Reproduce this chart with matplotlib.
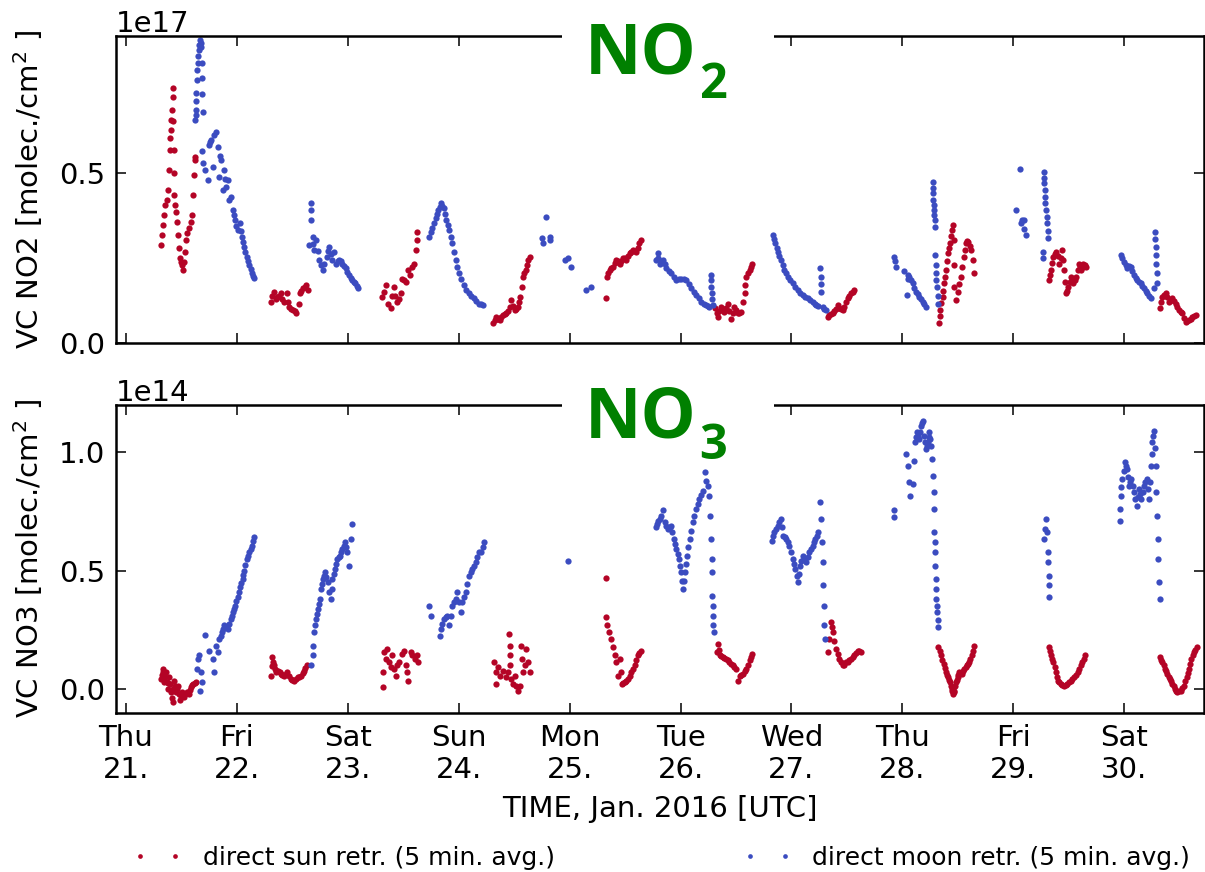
import matplotlib
matplotlib.use("Agg")
import matplotlib.pyplot as plt
import numpy as np
from matplotlib.patches import Rectangle
from matplotlib.ticker import ScalarFormatter

# ---------------- data (time = day of Jan 2016, UTC) ----------------
weekdays = ["Thu", "Fri", "Sat", "Sun", "Mon", "Tue", "Wed", "Thu", "Fri", "Sat"]
day_numbers = [21, 22, 23, 24, 25, 26, 27, 28, 29, 30]

# NO2 direct sun (units 1e17 molec/cm2)
no2_sun_t = [21.315, 21.324, 21.333, 21.342, 21.356, 21.369, 21.378, 21.387, 21.396, 21.400, 21.405, 21.410, 21.414, 21.420, 21.423, 21.428, 21.432, 21.435, 21.437, 21.441, 21.450, 21.459, 21.468, 21.477, 21.486, 21.495, 21.505, 21.514, 21.523, 21.532, 21.541, 21.550, 21.568, 21.586, 21.595, 21.604, 21.613, 21.622, 21.626,
             22.306, 22.320, 22.336, 22.350, 22.366, 22.380, 22.396, 22.410, 22.426, 22.448, 22.460, 22.471, 22.490, 22.502, 22.520, 22.532, 22.556, 22.568, 22.580, 22.592, 22.610, 22.622, 22.637,
             23.312, 23.330, 23.342, 23.367, 23.387, 23.400, 23.417, 23.430, 23.448, 23.460, 23.477, 23.493, 23.510, 23.523, 23.547, 23.560, 23.577, 23.597, 23.613, 23.622, 23.628,
             24.309, 24.325, 24.339, 24.355, 24.369, 24.385, 24.399, 24.415, 24.429, 24.445, 24.459, 24.474, 24.490, 24.505, 24.520, 24.534, 24.546, 24.556, 24.568, 24.580, 24.592, 24.604, 24.614, 24.624, 24.640,
             25.324, 25.336, 25.348, 25.360, 25.375, 25.390, 25.405, 25.420, 25.435, 25.450, 25.465, 25.480, 25.495, 25.511, 25.526, 25.541, 25.556, 25.571, 25.586, 25.601, 25.613, 25.625, 25.640,
             26.315, 26.326, 26.336, 26.350, 26.366, 26.381, 26.396, 26.411, 26.426, 26.441, 26.456, 26.471, 26.486, 26.501, 26.516, 26.531, 26.546, 26.560, 26.577, 26.585, 26.592, 26.607, 26.622, 26.634, 26.646,
             27.327, 27.342, 27.357, 27.372, 27.387, 27.402, 27.417, 27.432, 27.447, 27.462, 27.477, 27.492, 27.507, 27.522, 27.538, 27.553, 27.568,
             28.333, 28.338, 28.342, 28.352, 28.363, 28.370, 28.378, 28.385, 28.393, 28.403, 28.414, 28.423, 28.432, 28.438, 28.444, 28.456, 28.462, 28.465, 28.468, 28.486, 28.500, 28.515, 28.528, 28.540, 28.552, 28.563, 28.574, 28.585, 28.595, 28.607, 28.619, 28.633, 28.649,
             29.324, 29.332, 29.339, 29.350, 29.363, 29.374, 29.384, 29.400, 29.414, 29.430, 29.444, 29.452, 29.459, 29.467, 29.475, 29.485, 29.495, 29.508, 29.520, 29.532, 29.543, 29.555, 29.565, 29.580, 29.595, 29.605, 29.615, 29.625, 29.633, 29.645, 29.655,
             30.324, 30.335, 30.345, 30.360, 30.375, 30.390, 30.405, 30.420, 30.435, 30.450, 30.465, 30.480, 30.495, 30.510, 30.525, 30.540, 30.555, 30.570, 30.586, 30.600, 30.616, 30.630, 30.646]
no2_sun_v = [0.288, 0.317, 0.347, 0.376, 0.405, 0.420, 0.449, 0.508, 0.567, 0.600, 0.625, 0.655, 0.684, 0.720, 0.748, 0.650, 0.567, 0.500, 0.435, 0.405, 0.385, 0.356, 0.317, 0.279, 0.250, 0.238, 0.229, 0.215, 0.238, 0.268, 0.303, 0.323, 0.338, 0.356, 0.376, 0.435, 0.493, 0.537, 0.546,
             0.122, 0.140, 0.151, 0.130, 0.137, 0.140, 0.147, 0.130, 0.122, 0.147, 0.120, 0.107, 0.100, 0.098, 0.095, 0.090, 0.117, 0.147, 0.155, 0.161, 0.165, 0.171, 0.156,
             0.137, 0.150, 0.171, 0.117, 0.103, 0.140, 0.166, 0.140, 0.122, 0.130, 0.147, 0.190, 0.185, 0.180, 0.215, 0.200, 0.225, 0.234, 0.273, 0.303, 0.327,
             0.059, 0.070, 0.078, 0.072, 0.068, 0.078, 0.083, 0.085, 0.088, 0.095, 0.107, 0.127, 0.110, 0.098, 0.100, 0.107, 0.120, 0.137, 0.165, 0.195, 0.205, 0.215, 0.230, 0.244, 0.254,
             0.132, 0.195, 0.205, 0.215, 0.220, 0.225, 0.235, 0.244, 0.240, 0.234, 0.240, 0.249, 0.250, 0.244, 0.255, 0.264, 0.268, 0.273, 0.270, 0.268, 0.280, 0.293, 0.303,
             0.103, 0.090, 0.078, 0.095, 0.107, 0.100, 0.093, 0.105, 0.117, 0.095, 0.073, 0.090, 0.107, 0.097, 0.088, 0.090, 0.093, 0.120, 0.147, 0.170, 0.195, 0.205, 0.215, 0.225, 0.234,
             0.078, 0.082, 0.085, 0.088, 0.095, 0.100, 0.112, 0.105, 0.100, 0.098, 0.107, 0.120, 0.132, 0.140, 0.147, 0.150, 0.156,
             0.059, 0.080, 0.098, 0.118, 0.137, 0.155, 0.176, 0.195, 0.215, 0.240, 0.264, 0.280, 0.293, 0.315, 0.332, 0.347, 0.303, 0.230, 0.166, 0.127, 0.150, 0.175, 0.195, 0.225, 0.254, 0.275, 0.293, 0.300, 0.298, 0.285, 0.273, 0.244, 0.205,
             0.186, 0.200, 0.215, 0.235, 0.254, 0.262, 0.268, 0.255, 0.234, 0.250, 0.273, 0.245, 0.215, 0.180, 0.147, 0.155, 0.166, 0.180, 0.195, 0.185, 0.176, 0.185, 0.195, 0.215, 0.234, 0.225, 0.215, 0.225, 0.234, 0.230, 0.225,
             0.103, 0.120, 0.137, 0.142, 0.147, 0.135, 0.122, 0.128, 0.132, 0.125, 0.117, 0.108, 0.098, 0.093, 0.088, 0.075, 0.063, 0.066, 0.068, 0.073, 0.078, 0.080, 0.083]

# NO2 direct moon (units 1e17 molec/cm2)
no2_moon_t = [21.624, 21.628, 21.631, 21.633, 21.634, 21.637, 21.642, 21.646, 21.650, 21.655, 21.661, 21.667, 21.673, 21.679, 21.682, 21.685, 21.688, 21.691,
              21.685, 21.697, 21.715, 21.736, 21.745, 21.755, 21.766, 21.781, 21.796, 21.811, 21.826, 21.841, 21.850, 21.856, 21.871, 21.886, 21.895, 21.901, 21.916, 21.931, 21.946, 21.961, 21.975, 21.985, 21.995, 22.006, 22.027, 22.036, 22.045, 22.055, 22.066, 22.077, 22.087, 22.100, 22.111, 22.123, 22.135, 22.146, 22.156,
              22.646, 22.667, 22.667, 22.669, 22.682, 22.690, 22.697, 22.712, 22.727, 22.742, 22.757, 22.772, 22.787, 22.808, 22.820, 22.832, 22.845, 22.856, 22.877, 22.898, 22.910, 22.922, 22.937, 22.952, 22.967, 22.982, 22.997, 23.012, 23.027, 23.042, 23.054, 23.066, 23.081, 23.096,
              23.733, 23.748, 23.763, 23.778, 23.793, 23.805, 23.817, 23.828, 23.838, 23.853, 23.868, 23.878, 23.889, 23.900, 23.913, 23.928, 23.943, 23.958, 23.973, 23.988, 24.003, 24.025, 24.048, 24.070, 24.093, 24.115, 24.138, 24.160, 24.183, 24.200, 24.219,
              24.754, 24.760, 24.790, 24.820, 24.826, 24.955, 24.985, 25.015, 25.144, 25.195,
              25.781, 25.796, 25.800, 25.811, 25.826, 25.841, 25.856, 25.871, 25.893, 25.916, 25.938, 25.961, 25.983, 26.006, 26.028, 26.051, 26.073, 26.096, 26.118, 26.141, 26.163, 26.186, 26.208, 26.231, 26.246, 26.261, 26.273, 26.276, 26.278, 26.280, 26.283, 26.291,
              26.832, 26.845, 26.856, 26.866, 26.877, 26.892, 26.907, 26.922, 26.937, 26.952, 26.967, 26.990, 27.012, 27.035, 27.057, 27.080, 27.102, 27.125, 27.147, 27.170, 27.192, 27.210, 27.222, 27.240, 27.262, 27.264, 27.267, 27.270, 27.282, 27.297, 27.312,
              27.928, 27.933, 27.943, 28.018, 28.042, 28.048, 28.055, 28.063, 28.078, 28.093, 28.108, 28.123, 28.138, 28.153, 28.168, 28.183, 28.198, 28.213, 28.273, 28.274, 28.276, 28.279, 28.282, 28.285, 28.288, 28.291, 28.294, 28.297, 28.300, 28.303, 28.306, 28.312, 28.318, 28.324,
              29.024, 29.063, 29.069, 29.080, 29.093, 29.100, 29.114, 29.264, 29.264, 29.273, 29.276, 29.279, 29.282, 29.286, 29.290, 29.295, 29.300, 29.304, 29.310, 29.315,
              29.970, 29.985, 30.000, 30.015, 30.030, 30.045, 30.061, 30.075, 30.090, 30.105, 30.120, 30.135, 30.151, 30.165, 30.180, 30.195, 30.210, 30.225, 30.241, 30.270, 30.279, 30.282, 30.285, 30.288, 30.291, 30.295, 30.300]
no2_moon_v = [0.654, 0.670, 0.684, 0.710, 0.732, 0.772, 0.800, 0.821, 0.840, 0.860, 0.875, 0.889, 0.880, 0.869, 0.820, 0.777, 0.730, 0.679,
              0.562, 0.528, 0.508, 0.479, 0.581, 0.590, 0.596, 0.518, 0.611, 0.620, 0.576, 0.488, 0.550, 0.537, 0.449, 0.508, 0.480, 0.459, 0.479, 0.420, 0.430, 0.391, 0.375, 0.361, 0.345, 0.332, 0.352, 0.330, 0.312, 0.298, 0.283, 0.268, 0.254, 0.240, 0.229, 0.217, 0.205, 0.198, 0.193,
              0.288, 0.410, 0.361, 0.390, 0.312, 0.290, 0.273, 0.303, 0.270, 0.244, 0.230, 0.215, 0.234, 0.254, 0.270, 0.283, 0.262, 0.244, 0.268, 0.234, 0.240, 0.244, 0.240, 0.234, 0.227, 0.220, 0.210, 0.200, 0.193, 0.186, 0.181, 0.176, 0.168, 0.161,
              0.312, 0.325, 0.337, 0.352, 0.366, 0.378, 0.391, 0.400, 0.410, 0.403, 0.396, 0.380, 0.361, 0.346, 0.332, 0.312, 0.293, 0.268, 0.244, 0.224, 0.205, 0.188, 0.171, 0.158, 0.147, 0.139, 0.132, 0.124, 0.117, 0.115, 0.112,
              0.308, 0.293, 0.371, 0.312, 0.303, 0.244, 0.249, 0.225, 0.156, 0.164,
              0.244, 0.264, 0.250, 0.234, 0.240, 0.244, 0.232, 0.220, 0.212, 0.205, 0.196, 0.186, 0.188, 0.190, 0.188, 0.186, 0.174, 0.161, 0.152, 0.142, 0.132, 0.122, 0.117, 0.112, 0.110, 0.107, 0.200, 0.186, 0.165, 0.147, 0.130, 0.112,
              0.317, 0.305, 0.293, 0.280, 0.268, 0.256, 0.244, 0.230, 0.215, 0.205, 0.195, 0.186, 0.176, 0.166, 0.156, 0.149, 0.142, 0.137, 0.132, 0.127, 0.122, 0.117, 0.112, 0.110, 0.220, 0.195, 0.175, 0.150, 0.107, 0.102, 0.098,
              0.254, 0.240, 0.225, 0.213, 0.142, 0.190, 0.200, 0.195, 0.185, 0.176, 0.163, 0.151, 0.144, 0.137, 0.130, 0.122, 0.115, 0.107, 0.474, 0.455, 0.440, 0.420, 0.405, 0.390, 0.376, 0.360, 0.342, 0.259, 0.230, 0.205, 0.185, 0.166, 0.140, 0.117,
              0.391, 0.510, 0.352, 0.360, 0.361, 0.335, 0.317, 0.268, 0.249, 0.503, 0.485, 0.469, 0.450, 0.430, 0.410, 0.391, 0.370, 0.352, 0.330, 0.308,
              0.259, 0.250, 0.239, 0.230, 0.220, 0.228, 0.225, 0.212, 0.200, 0.193, 0.186, 0.181, 0.176, 0.168, 0.161, 0.154, 0.147, 0.140, 0.132, 0.161, 0.327, 0.305, 0.283, 0.260, 0.234, 0.205, 0.176]

# NO3 direct sun (units 1e14 molec/cm2)
no3_sun_t = [21.315, 21.322, 21.330, 21.338, 21.345, 21.352, 21.360, 21.368, 21.375, 21.382, 21.390, 21.397, 21.405, 21.412, 21.420, 21.428, 21.435, 21.442, 21.450, 21.458, 21.465, 21.475, 21.486, 21.495, 21.505, 21.515, 21.526, 21.536, 21.547, 21.556, 21.565, 21.575, 21.586, 21.597, 21.607, 21.619, 21.631,
             22.312, 22.316, 22.321, 22.328, 22.336, 22.344, 22.351, 22.363, 22.375, 22.385, 22.396, 22.411, 22.426, 22.441, 22.456, 22.471, 22.486, 22.501, 22.517, 22.532, 22.547, 22.562, 22.577, 22.592, 22.607, 22.618, 22.628,
             23.318, 23.321, 23.327, 23.342, 23.357, 23.372, 23.387, 23.402, 23.417, 23.432, 23.447, 23.462, 23.486, 23.508, 23.523, 23.538, 23.547, 23.568, 23.583, 23.607, 23.628, 23.637,
             24.315, 24.333, 24.339, 24.354, 24.375, 24.399, 24.423, 24.444, 24.453, 24.459, 24.462, 24.465, 24.474, 24.489, 24.505, 24.520, 24.535, 24.550, 24.565, 24.574, 24.580, 24.595, 24.610, 24.625, 24.640,
             25.330, 25.324, 25.336, 25.354, 25.375, 25.390, 25.405, 25.420, 25.435, 25.450, 25.465, 25.474, 25.485, 25.495, 25.510, 25.526, 25.541, 25.556, 25.571, 25.586, 25.601, 25.616, 25.628, 25.640,
             26.327, 26.336, 26.347, 26.357, 26.369, 26.381, 26.396, 26.411, 26.426, 26.441, 26.456, 26.471, 26.486, 26.501, 26.516, 26.532, 26.547, 26.562, 26.577, 26.592, 26.607, 26.622, 26.634, 26.646,
             27.327, 27.342, 27.357, 27.365, 27.372, 27.387, 27.402, 27.417, 27.432, 27.447, 27.462, 27.477, 27.493, 27.508, 27.523, 27.538, 27.553, 27.568, 27.583, 27.598, 27.613, 27.628,
             28.325, 28.336, 28.348, 28.360, 28.372, 28.383, 28.393, 28.404, 28.414, 28.423, 28.432, 28.438, 28.444, 28.450, 28.456, 28.462, 28.468, 28.476, 28.483, 28.490, 28.498, 28.506, 28.513, 28.524, 28.534, 28.546, 28.558, 28.570, 28.582, 28.592, 28.603, 28.614, 28.625, 28.634, 28.643,
             29.324, 29.332, 29.339, 29.351, 29.363, 29.374, 29.384, 29.395, 29.405, 29.417, 29.429, 29.444, 29.459, 29.474, 29.489, 29.504, 29.519, 29.534, 29.549, 29.565, 29.580, 29.595, 29.610, 29.622, 29.634, 29.646,
             30.324, 30.335, 30.345, 30.356, 30.366, 30.378, 30.390, 30.402, 30.414, 30.425, 30.435, 30.446, 30.456, 30.468, 30.480, 30.495, 30.510, 30.525, 30.541, 30.553, 30.565, 30.576, 30.586, 30.597, 30.607, 30.619, 30.631, 30.643, 30.655]
no3_sun_v = [0.042, 0.060, 0.085, 0.070, 0.028, 0.050, 0.070, 0.030, 0.000, 0.025, 0.049, 0.020, -0.014, -0.040, -0.056, 0.000, 0.035, 0.010, -0.014, 0.000, 0.014, -0.020, -0.049, -0.030, -0.014, -0.025, -0.035, -0.020, -0.014, -0.018, -0.021, -0.005, 0.007, 0.015, 0.021, 0.025, 0.028,
             0.056, 0.095, 0.134, 0.115, 0.099, 0.085, 0.070, 0.075, 0.077, 0.070, 0.063, 0.060, 0.056, 0.062, 0.070, 0.055, 0.042, 0.038, 0.035, 0.040, 0.049, 0.052, 0.056, 0.066, 0.077, 0.088, 0.099,
             0.007, 0.070, 0.155, 0.127, 0.169, 0.113, 0.092, 0.141, 0.085, 0.056, 0.099, 0.113, 0.148, 0.162, 0.099, 0.070, 0.035, 0.155, 0.141, 0.127, 0.141, 0.113,
             0.113, 0.070, 0.021, 0.092, 0.056, 0.077, 0.049, 0.070, 0.232, 0.183, 0.141, 0.099, 0.042, 0.021, 0.056, 0.014, -0.007, 0.014, 0.183, 0.127, 0.070, 0.099, 0.169, 0.113, 0.070,
             0.468, 0.303, 0.268, 0.239, 0.211, 0.176, 0.141, 0.113, 0.056, 0.127, 0.070, 0.021, 0.024, 0.028, 0.035, 0.042, 0.056, 0.070, 0.085, 0.099, 0.120, 0.141, 0.152, 0.162,
             0.155, 0.190, 0.165, 0.141, 0.137, 0.134, 0.130, 0.127, 0.120, 0.113, 0.106, 0.099, 0.092, 0.085, 0.035, 0.056, 0.060, 0.063, 0.074, 0.085, 0.102, 0.120, 0.134, 0.148,
             0.155, 0.211, 0.282, 0.260, 0.239, 0.204, 0.169, 0.148, 0.127, 0.113, 0.099, 0.099, 0.113, 0.113, 0.120, 0.127, 0.134, 0.141, 0.150, 0.162, 0.158, 0.155,
             0.176, 0.158, 0.141, 0.124, 0.106, 0.088, 0.070, 0.060, 0.049, 0.038, 0.028, 0.014, 0.000, -0.010, -0.021, -0.014, -0.007, 0.010, 0.028, 0.038, 0.049, 0.060, 0.070, 0.066, 0.063, 0.074, 0.085, 0.092, 0.099, 0.106, 0.113, 0.127, 0.141, 0.162, 0.183,
             0.176, 0.158, 0.141, 0.127, 0.113, 0.092, 0.070, 0.052, 0.035, 0.028, 0.021, 0.018, 0.014, 0.018, 0.021, 0.028, 0.035, 0.042, 0.049, 0.060, 0.070, 0.085, 0.099, 0.113, 0.127, 0.141,
             0.134, 0.124, 0.113, 0.099, 0.085, 0.074, 0.063, 0.052, 0.042, 0.032, 0.021, 0.010, 0.000, -0.007, -0.014, -0.010, -0.007, 0.003, 0.014, 0.032, 0.049, 0.067, 0.085, 0.106, 0.127, 0.141, 0.155, 0.166, 0.176]

# NO3 direct moon (units 1e14 molec/cm2)
no3_moon_t = [21.637, 21.646, 21.661, 21.676, 21.667, 21.685, 21.712, 21.751, 21.781, 21.796, 21.811, 21.826, 21.841, 21.853, 21.865, 21.876, 21.886, 21.900, 21.916, 21.931, 21.946, 21.957, 21.967, 21.976, 21.985, 21.995, 22.006, 22.017, 22.027, 22.039, 22.051, 22.058, 22.066, 22.077, 22.087, 22.099, 22.111, 22.123, 22.135, 22.146, 22.156,
              22.667, 22.682, 22.688, 22.697, 22.705, 22.712, 22.720, 22.727, 22.738, 22.748, 22.757, 22.765, 22.772, 22.784, 22.796, 22.806, 22.817, 22.832, 22.847, 22.855, 22.862, 22.874, 22.886, 22.897, 22.907, 22.918, 22.928, 22.940, 22.952, 22.964, 22.976, 22.987, 22.997, 23.012, 23.027, 23.042,
              23.733, 23.748, 23.829, 23.838, 23.853, 23.868, 23.883, 23.898, 23.913, 23.928, 23.943, 23.958, 23.973, 23.988, 24.003, 24.018, 24.033, 24.048, 24.063, 24.078, 24.093, 24.108, 24.123, 24.138, 24.153, 24.168, 24.183, 24.204, 24.215, 24.225,
              24.985,
              25.775, 25.786, 25.796, 25.811, 25.826, 25.841, 25.856, 25.871, 25.886, 25.901, 25.916, 25.927, 25.937, 25.949, 25.961, 25.973, 25.985, 25.996, 26.006, 26.014, 26.021, 26.029, 26.036, 26.047, 26.057, 26.069, 26.081, 26.096, 26.111, 26.126, 26.141, 26.156, 26.171, 26.186, 26.201, 26.219, 26.233, 26.246, 26.261, 26.267, 26.276, 26.282, 26.285, 26.288, 26.291, 26.294, 26.297, 26.300,
              26.826, 26.837, 26.847, 26.862, 26.877, 26.892, 26.907, 26.918, 26.928, 26.940, 26.952, 26.967, 26.982, 26.997, 27.012, 27.024, 27.036, 27.047, 27.057, 27.068, 27.078, 27.090, 27.102, 27.117, 27.132, 27.147, 27.162, 27.177, 27.192, 27.204, 27.216, 27.227, 27.237, 27.258, 27.267, 27.276, 27.282, 27.288, 27.294, 27.297, 27.303,
              27.922, 27.928, 28.033, 28.048, 28.063, 28.072, 28.093, 28.102, 28.114, 28.123, 28.132, 28.143, 28.153, 28.160, 28.168, 28.178, 28.189, 28.198, 28.206, 28.213, 28.220, 28.228, 28.236, 28.243, 28.250, 28.258, 28.267, 28.276, 28.282, 28.285, 28.288, 28.291, 28.294, 28.297, 28.300, 28.303, 28.306, 28.309, 28.312, 28.318, 28.324,
              29.279, 29.287, 29.294, 29.303, 29.309, 29.315, 29.318, 29.321, 29.324,
              29.960, 29.965, 29.969, 29.976, 29.984, 29.995, 30.005, 30.018, 30.030, 30.038, 30.045, 30.055, 30.066, 30.078, 30.090, 30.102, 30.114, 30.125, 30.135, 30.145, 30.156, 30.168, 30.180, 30.192, 30.204, 30.215, 30.225, 30.232, 30.240, 30.248, 30.255, 30.263, 30.270, 30.278, 30.285, 30.291, 30.297, 30.303, 30.309, 30.315, 30.321]
no3_moon_v = [0.085, 0.127, 0.141, 0.070, -0.007, 0.028, 0.228, 0.162, 0.127, 0.070, 0.183, 0.155, 0.211, 0.225, 0.239, 0.254, 0.268, 0.260, 0.254, 0.275, 0.296, 0.310, 0.324, 0.338, 0.352, 0.370, 0.387, 0.408, 0.430, 0.447, 0.465, 0.482, 0.500, 0.525, 0.549, 0.563, 0.577, 0.592, 0.606, 0.624, 0.641,
              0.099, 0.141, 0.183, 0.239, 0.268, 0.296, 0.317, 0.338, 0.359, 0.380, 0.423, 0.444, 0.465, 0.479, 0.493, 0.472, 0.451, 0.409, 0.380, 0.423, 0.465, 0.486, 0.507, 0.528, 0.549, 0.556, 0.563, 0.578, 0.592, 0.606, 0.620, 0.598, 0.577, 0.521, 0.634, 0.697,
              0.352, 0.310, 0.225, 0.254, 0.275, 0.296, 0.303, 0.310, 0.268, 0.310, 0.352, 0.366, 0.380, 0.409, 0.366, 0.324, 0.366, 0.387, 0.409, 0.444, 0.479, 0.493, 0.507, 0.521, 0.535, 0.556, 0.577, 0.577, 0.598, 0.620,
              0.542,
              0.683, 0.697, 0.711, 0.720, 0.732, 0.754, 0.704, 0.690, 0.676, 0.683, 0.690, 0.662, 0.634, 0.613, 0.592, 0.570, 0.549, 0.521, 0.493, 0.458, 0.423, 0.458, 0.493, 0.528, 0.563, 0.598, 0.634, 0.669, 0.704, 0.732, 0.761, 0.782, 0.803, 0.820, 0.838, 0.915, 0.880, 0.859, 0.817, 0.732, 0.634, 0.549, 0.493, 0.394, 0.352, 0.310, 0.268, 0.239,
              0.627, 0.645, 0.662, 0.676, 0.690, 0.704, 0.718, 0.683, 0.648, 0.641, 0.634, 0.620, 0.606, 0.578, 0.549, 0.528, 0.507, 0.479, 0.451, 0.486, 0.521, 0.542, 0.563, 0.549, 0.535, 0.556, 0.577, 0.592, 0.606, 0.620, 0.634, 0.648, 0.662, 0.789, 0.718, 0.620, 0.535, 0.437, 0.352, 0.268, 0.211,
              0.754, 0.725, 0.993, 0.944, 0.873, 0.817, 0.866, 0.965, 1.042, 1.064, 1.085, 1.070, 1.056, 1.085, 1.113, 1.124, 1.134, 1.070, 1.042, 1.014, 1.028, 1.042, 1.064, 1.085, 1.056, 1.028, 0.972, 0.901, 0.831, 0.761, 0.662, 0.620, 0.577, 0.521, 0.465, 0.423, 0.380, 0.352, 0.324, 0.290, 0.261,
              0.634, 0.676, 0.718, 0.662, 0.577, 0.535, 0.479, 0.437, 0.387,
              0.711, 0.760, 0.817, 0.852, 0.887, 0.922, 0.958, 0.944, 0.930, 0.895, 0.859, 0.873, 0.887, 0.859, 0.831, 0.803, 0.775, 0.810, 0.845, 0.824, 0.803, 0.831, 0.859, 0.873, 0.887, 0.845, 0.803, 0.873, 0.944, 0.993, 1.042, 1.067, 1.092, 1.018, 0.944, 0.831, 0.732, 0.634, 0.549, 0.451, 0.380]

# ---------------- styling ----------------
SUN_COLOR = "#B40426"
MOON_COLOR = "#3B4CC0"
plt.rcParams["font.family"] = ["DejaVu Sans"]

fig = plt.figure(figsize=(12.05, 8.72), dpi=100)
W, H = 1205.0, 872.0
left = 116 / W
width = (1204 - 116) / W
ax1 = fig.add_axes([left, 1 - 343.5 / H, width, (343.5 - 36) / H])
ax2 = fig.add_axes([left, 1 - 712.5 / H, width, (712.5 - 405) / H])

ms = 4.5
for ax, st, sv, mt, mv, exp in [
    (ax1, no2_sun_t, no2_sun_v, no2_moon_t, no2_moon_v, 17),
    (ax2, no3_sun_t, no3_sun_v, no3_moon_t, no3_moon_v, 14),
]:
    scale = 10.0 ** exp
    ax.plot(st, np.asarray(sv) * scale, linestyle="none", marker="o", ms=ms,
            mec="none", color=SUN_COLOR, label="direct sun retr. (5 min. avg.)")
    ax.plot(mt, np.asarray(mv) * scale, linestyle="none", marker="o", ms=ms,
            mec="none", color=MOON_COLOR, label="direct moon retr. (5 min. avg.)")
    ax.set_xlim(20.91, 30.72)
    ax.set_xticks(day_numbers)
    ax.tick_params(direction="in", top=True, right=True, length=7, width=1.1,
                   labelsize=21, pad=8)
    for sp in ax.spines.values():
        sp.set_linewidth(1.8)
    fmt = ScalarFormatter()
    fmt.set_powerlimits((exp, exp))
    ax.yaxis.set_major_formatter(fmt)
    ax.yaxis.get_offset_text().set_fontsize(21)

ax1.set_ylim(0, 0.9e17)
ax1.set_yticks([0, 0.5e17])
ax1.tick_params(labelbottom=False)
ax2.set_ylim(-0.1e14, 1.2e14)
ax2.set_yticks([0, 0.5e14, 1.0e14])
ax2.set_xticklabels([f"{d}\n{n}." for d, n in zip(weekdays, day_numbers)])

ax1.set_ylabel("VC NO2 [molec./cm$^2$ ]", fontsize=21)
ax2.set_ylabel("VC NO3 [molec./cm$^2$ ]", fontsize=21)
ax1.yaxis.set_label_coords(-0.065, 0.5)
ax2.yaxis.set_label_coords(-0.065, 0.5)
ax2.set_xlabel("TIME, Jan. 2016 [UTC]", fontsize=21, labelpad=8)

# white boxes interrupting the top spines + green species labels
for y0, y1 in [(0, 100), (368, 458)]:
    fig.add_artist(Rectangle((562 / W, 1 - y1 / H), (774 - 562) / W, (y1 - y0) / H,
                             transform=fig.transFigure, facecolor="white",
                             edgecolor="none", zorder=5))

fig.canvas.draw()
renderer = fig.canvas.get_renderer()
for base_y, sub_y, sub in [(74, 98, "2"), (437, 459, "3")]:
    t = fig.text(585 / W, 1 - base_y / H, "NO", ha="left", va="baseline",
                 fontsize=50, fontweight="bold", color="green",
                 family=["Open Sans", "DejaVu Sans"], zorder=6)
    bb = t.get_window_extent(renderer)
    fig.text((bb.x1 + 2) / W, 1 - sub_y / H, sub, ha="left", va="baseline",
             fontsize=35, fontweight="bold", color="green",
             family=["Open Sans", "DejaVu Sans"], zorder=6)

handles, labels = ax1.get_legend_handles_labels()
fig.legend(handles, labels, loc="center", bbox_to_anchor=(0.549, 0.016), ncol=2,
           frameon=False, numpoints=2, markerscale=0.75, handlelength=2.0,
           handletextpad=0.8, columnspacing=7.5, fontsize=18)

fig.savefig("out.png", dpi=100)
